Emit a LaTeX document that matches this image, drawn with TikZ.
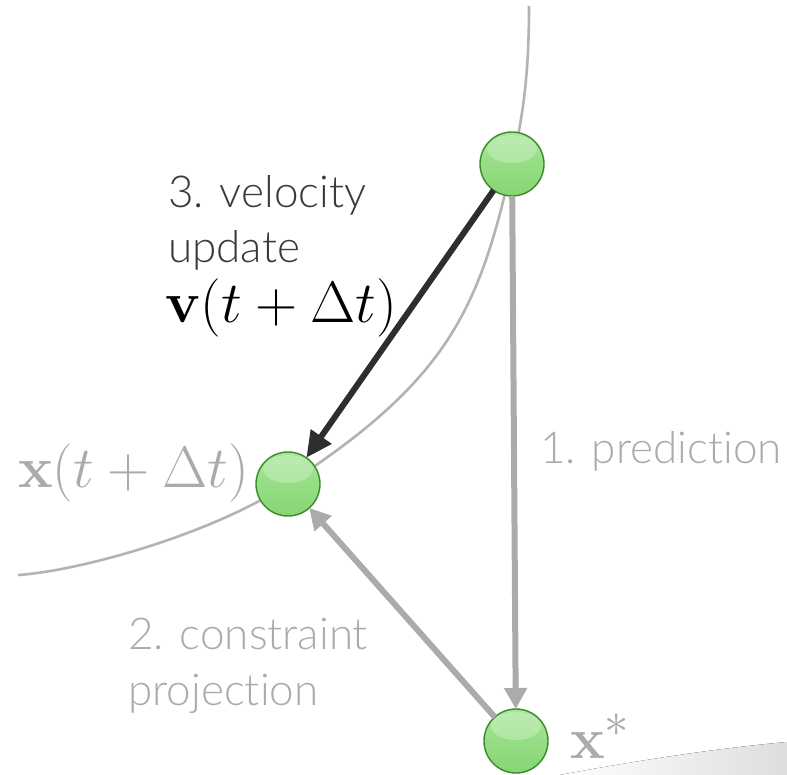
\documentclass[tikz,border=0pt]{standalone}
\usepackage[no-math]{fontspec}
\IfFontExistsTF{Lato Light}
  {\setmainfont{Lato Light}[Ligatures={NoCommon}]\newcommand{\lblsize}{44}}
  {\setmainfont{Open Sans}\newcommand{\lblsize}{41}}
\usetikzlibrary{arrows.meta}
\definecolor{curvegray}{HTML}{B3B3B3}
\definecolor{arrowgray}{HTML}{ABABAB}
\definecolor{textgray}{HTML}{ABABAB}
\definecolor{darkline}{HTML}{2E2E2E}
\definecolor{darktext}{HTML}{3A3A3A}
\definecolor{ballTop}{HTML}{A6E597}
\definecolor{ballMid}{HTML}{5CB84A}
\definecolor{ballBot}{HTML}{86D672}
\definecolor{ballRim}{HTML}{3A8A2C}
\newcommand{\bigmath}[1]{\scalebox{2.35}{$#1$}}
\begin{document}
\begin{tikzpicture}[x=1pt,y=-1pt,
  ball/.style={circle, minimum size=64pt, inner sep=0pt, outer sep=0pt,
    draw=ballRim, line width=1.4pt, top color=ballTop, middle color=ballMid,
    bottom color=ballBot,
    path picture={\fill[white,opacity=0.25] ([yshift=15pt]path picture bounding box.center) ellipse [x radius=25pt, y radius=14pt];}},
  lbl/.style={inner sep=0pt, anchor=base west, font=\fontsize{\lblsize}{48}\selectfont},
  mth/.style={inner sep=0pt, anchor=base west, font=\fontsize{24.88}{30}\selectfont},
  darkarrow/.style={darkline, line width=6pt, -{Triangle[length=26pt,width=24pt]}},
  grayarrow/.style={arrowgray, line width=6pt, -{Triangle[length=21pt,width=22pt]}},
  curveline/.style={curvegray, line width=2.6pt}
]
\useasboundingbox (0,0) rectangle (787,775);
% page shadow
\fill[left color=white, right color=black!13] (560,775) .. controls (640,760) and (720,748) .. (787,742) -- (787,775) -- cycle;
% constraint curve
\draw[curveline] (529,6) .. controls (529,80) and (522,120) .. (512,164)
  .. controls (479,310) and (448,380) .. (288,484)
  .. controls (212,534) and (80,571) .. (18,575);
% particles
\node[ball] (top) at (512,164) {};
\node[ball] (mid) at (288,484) {};
\node[ball] (bot) at (516,741) {};
% arrows
\draw[grayarrow] (top) -- (bot);
\draw[grayarrow] (bot) -- (mid);
\draw[darkarrow] (top) -- (mid);
% labels
\node[lbl, text=darktext] (t3a) at (168,208) {3. velocity};
\node[lbl, text=darktext] (t3b) at (168,263) {update};
\node[mth] (vel) at (165,323) {\bigmath{\mathbf{v}(t+\Delta t)}};
\node[mth, text=textgray] (xl) at (18,487) {\bigmath{\mathbf{x}(t+\Delta t)}};
\node[lbl, text=textgray] (t1) at (540,463) {1. prediction};
\node[lbl, text=textgray] (t2a) at (128,649) {2. constraint};
\node[lbl, text=textgray] (t2b) at (128,705) {projection};
\node[mth, text=textgray] (xs) at (570,758) {\bigmath{\mathbf{x}^*}};
\end{tikzpicture}
\end{document}
